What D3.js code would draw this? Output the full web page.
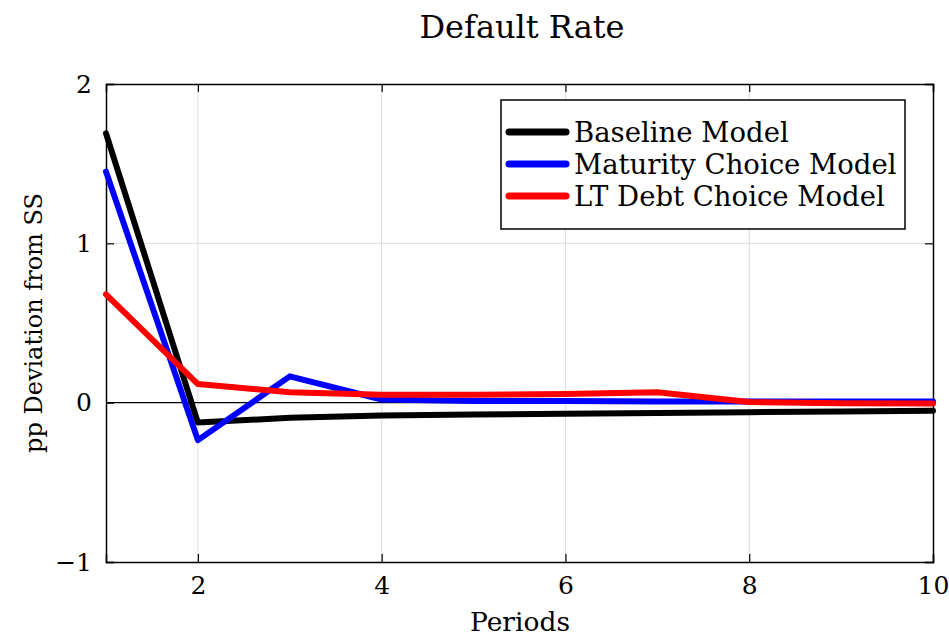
<!DOCTYPE html>
<html>
<head>
<meta charset="utf-8">
<script src="https://cdn.jsdelivr.net/npm/d3@7"></script>
<style>
  body { margin: 0; background: #fff; }
  svg text { font-family: "DejaVu Serif", "Liberation Serif", serif; fill: #000; }
</style>
</head>
<body>
<svg id="chart" width="949" height="637"></svg>
<script>
// data
var periods = [1, 2, 3, 4, 5, 6, 7, 8, 9, 10];
var baseline = [1.69, -0.125, -0.095, -0.08, -0.075, -0.07, -0.065, -0.06, -0.055, -0.05];
var maturity = [1.45, -0.235, 0.165, 0.02, 0.01, 0.01, 0.008, 0.008, 0.008, 0.008];
var ltDebt = [0.68, 0.117, 0.065, 0.05, 0.05, 0.055, 0.065, 0.004, -0.004, -0.005];
var seriesNames = ['Baseline Model', 'Maturity Choice Model', 'LT Debt Choice Model'];
var seriesColors = ['#000000', '#0000ff', '#ff0000'];
var xTicks = [2, 4, 6, 8, 10];
var yTicks = [-1, 0, 1, 2];

var svg = d3.select('#chart');
var mLeft = 106, mRight = 933, mTop = 84, mBottom = 562;

var x = d3.scaleLinear().domain([1, 10]).range([mLeft, mRight]);
var y = d3.scaleLinear().domain([-1, 2]).range([mBottom, mTop]);

// grid
svg.append('g').selectAll('line').data(xTicks.slice(0, -1)).enter().append('line')
    .attr('x1', d => x(d)).attr('x2', d => x(d))
    .attr('y1', mTop).attr('y2', mBottom)
    .attr('stroke', '#dcdcdc').attr('stroke-width', 1);
svg.append('g').selectAll('line').data([1]).enter().append('line')
    .attr('x1', mLeft).attr('x2', mRight)
    .attr('y1', d => y(d)).attr('y2', d => y(d))
    .attr('stroke', '#dcdcdc').attr('stroke-width', 1);

// zero line
svg.append('line')
    .attr('x1', mLeft).attr('x2', mRight)
    .attr('y1', y(0)).attr('y2', y(0))
    .attr('stroke', '#000').attr('stroke-width', 1.2);

// axes with inward ticks
var tickLen = 8;
var xAxis = d3.axisBottom(x).tickValues(xTicks).tickSize(-tickLen).tickPadding(14).tickFormat(d3.format('d'));
var yAxis = d3.axisLeft(y).tickValues(yTicks).tickSize(-tickLen).tickPadding(14)
    .tickFormat(d => d < 0 ? '\u2212' + Math.abs(d) : d);

var gx = svg.append('g').attr('transform', 'translate(0,' + mBottom + ')').call(xAxis);
var gy = svg.append('g').attr('transform', 'translate(' + mLeft + ',0)').call(yAxis);
var gxt = svg.append('g').attr('transform', 'translate(0,' + mTop + ')')
    .call(d3.axisTop(x).tickValues(xTicks).tickSize(-tickLen).tickFormat(''));
var gyr = svg.append('g').attr('transform', 'translate(' + mRight + ',0)')
    .call(d3.axisRight(y).tickValues(yTicks).tickSize(-tickLen).tickFormat(''));

[gx, gy, gxt, gyr].forEach(function (g) {
    g.select('.domain').attr('stroke', '#000').attr('stroke-width', 1.5);
    g.selectAll('.tick line').attr('stroke', '#000').attr('stroke-width', 1.2);
    g.selectAll('text').style('font-size', '25px')
        .style('font-family', '"DejaVu Serif", "Liberation Serif", serif');
});

// lines
var line = d3.line().x((d, i) => x(periods[i])).y(d => y(d));
var allSeries = [baseline, maturity, ltDebt];
svg.append('g').selectAll('path').data(allSeries).enter().append('path')
    .attr('d', line)
    .attr('fill', 'none')
    .attr('stroke', (d, i) => seriesColors[i])
    .attr('stroke-width', 6)
    .attr('stroke-linejoin', 'round')
    .attr('stroke-linecap', 'round');

// title and labels
svg.append('text').attr('x', 522).attr('y', 38).attr('text-anchor', 'middle')
    .style('font-size', '32px').text('Default Rate');
svg.append('text').attr('x', 520).attr('y', 631).attr('text-anchor', 'middle')
    .style('font-size', '26.5px').text('Periods');
svg.append('text').attr('transform', 'translate(42,' + ((mTop + mBottom) / 2) + ') rotate(-90)')
    .attr('text-anchor', 'middle').style('font-size', '24px').text('pp Deviation from SS');

// legend
var lg = svg.append('g');
lg.append('rect').attr('x', 501).attr('y', 100).attr('width', 404).attr('height', 129)
    .attr('fill', '#fff').attr('stroke', '#000').attr('stroke-width', 1.5);
var rows = lg.selectAll('g.row').data(seriesNames).enter().append('g')
    .attr('transform', (d, i) => 'translate(0,' + (132 + i * 32) + ')');
rows.append('line').attr('x1', 509).attr('x2', 566).attr('y1', 0).attr('y2', 0)
    .attr('stroke', (d, i) => seriesColors[i]).attr('stroke-width', 7)
    .attr('stroke-linecap', 'round');
rows.append('text').attr('x', 574).attr('y', 10).style('font-size', '27.5px').text(d => d);
</script>
</body>
</html>
